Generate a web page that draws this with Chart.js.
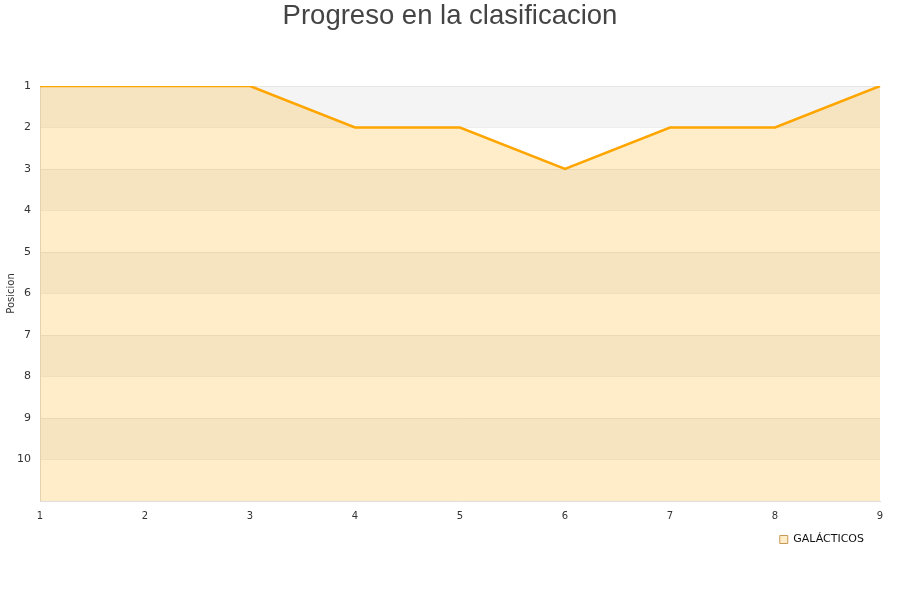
<!DOCTYPE html>
<html>
<head>
<meta charset="utf-8">
<script src="https://cdn.jsdelivr.net/npm/chart.js@4"></script>
<style>
    body { margin: 0; background: #fff; }
    #wrap { width: 900px; height: 600px; }
</style>
</head>
<body>
<div id="wrap"><canvas id="posChart"></canvas></div>
<script>
const jornadas = ["1", "2", "3", "4", "5", "6", "7", "8", "9"];
const posiciones = [1, 1, 1, 2, 2, 3, 2, 2, 1];
const equipo = "GALÁCTICOS";
const tituloGrafico = "Progreso en la clasificacion";
const tituloEjeY = "Posicion";

// alternating grey / white bands behind the plot
const bandas = {
    id: "bandas",
    beforeDraw(chart) {
        const ctx = chart.ctx;
        const area = chart.chartArea;
        const y = chart.scales.y;
        ctx.save();
        for (let v = y.min; v < y.max; v++) {
            const top = y.getPixelForValue(v);
            const bot = y.getPixelForValue(v + 1);
            ctx.fillStyle = (v % 2 === 1) ? "#f4f4f4" : "#ffffff";
            ctx.fillRect(area.left, top, area.right - area.left, bot - top);
        }
        ctx.restore();
    }
};

// push the legend in a bit from the right edge
const legendaDerecha = {
    id: "legendaDerecha",
    afterLayout(chart) {
        if (chart.legend) {
            chart.legend.right -= 28;
        }
    }
};

let ctx = document.getElementById("posChart").getContext("2d");
new Chart(ctx, {
    type: "line",
    plugins: [bandas, legendaDerecha],
    data: {
        labels: jornadas,
        datasets: [{
            label: equipo,
            data: posiciones,
            borderColor: "#ffa500",
            backgroundColor: "rgba(255,165,0,0.21)",
            borderWidth: 2.5,
            pointRadius: 0,
            tension: 0,
            fill: { value: 11 }
        }]
    },
    options: {
        responsive: true,
        maintainAspectRatio: false,
        animation: false,
        layout: { padding: { left: 0, right: 0, top: 0, bottom: 45 } },
        plugins: {
            title: {
                display: true,
                text: tituloGrafico,
                color: "#444",
                font: { family: "Liberation Sans, Arial, sans-serif", size: 27.5, weight: "normal" },
                padding: { top: 0, bottom: 53 }
            },
            legend: {
                position: "bottom",
                align: "end",
                labels: {
                    color: "#111",
                    boxWidth: 8,
                    boxHeight: 8,
                    padding: 8,
                    font: { family: "DejaVu Sans", size: 11 },
                    generateLabels: function (chart) {
                        return chart.data.datasets.map(function (ds, i) {
                            return {
                                text: ds.label,
                                fillStyle: ds.backgroundColor,
                                strokeStyle: "#c89a55",
                                lineWidth: 1,
                                fontColor: "#111",
                                datasetIndex: i
                            };
                        });
                    }
                }
            },
            tooltip: { enabled: false }
        },
        scales: {
            x: {
                offset: false,
                grid: { display: false },
                border: { color: "#dddddd" },
                afterFit: function (s) { s.paddingRight = 20; s.height += 3; },
                ticks: {
                    color: "#333",
                    padding: 1,
                    maxRotation: 0,
                    font: { family: "DejaVu Sans", size: 10 }
                }
            },
            y: {
                reverse: true,
                min: 1,
                max: 11,
                afterFit: function (s) { s.width = 40; },
                grid: { color: "rgba(0,0,0,0.06)", drawTicks: false },
                border: { color: "#dddddd" },
                title: {
                    display: true,
                    text: tituloEjeY,
                    color: "#333",
                    font: { family: "DejaVu Sans", size: 10 },
                    padding: { top: 5, bottom: 0 }
                },
                ticks: {
                    stepSize: 1,
                    color: "#333",
                    padding: 9,
                    font: { family: "DejaVu Sans", size: 11 },
                    callback: function (v) { return v === 11 ? "" : v; }
                }
            }
        }
    }
});
</script>
</body>
</html>
